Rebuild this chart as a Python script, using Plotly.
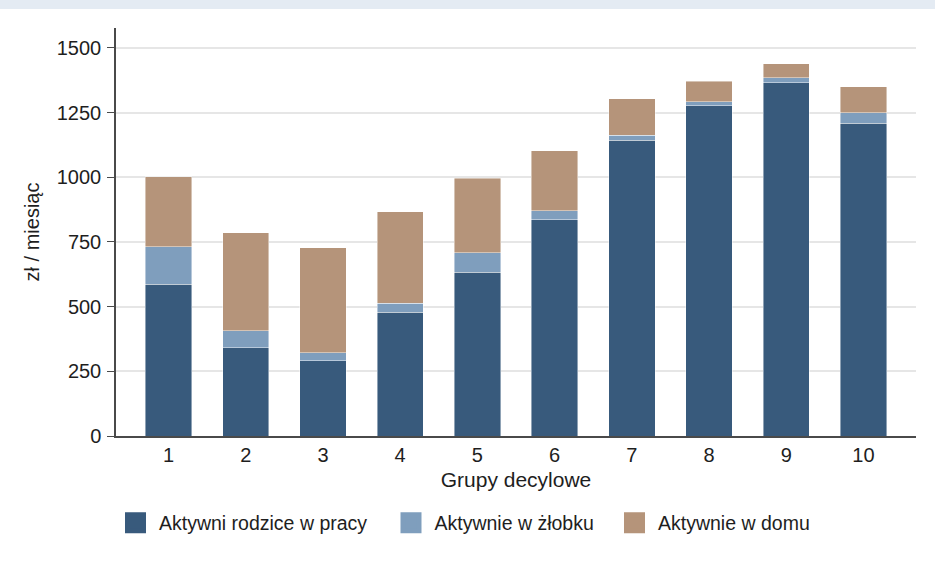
import plotly.graph_objects as go

groups = [1, 2, 3, 4, 5, 6, 7, 8, 9, 10]
tick_labels = ["1", "2", "3", "4", "5", "6", "7", "8", "9", "10"]
series_names = ["Aktywni rodzice w pracy", "Aktywnie w żłobku", "Aktywnie w domu"]
work = [587, 341, 291, 479, 633, 835, 1144, 1276, 1366, 1209]
creche = [145, 66, 31, 34, 76, 36, 18, 16, 19, 40]
home = [270, 379, 405, 354, 288, 231, 141, 80, 53, 100]
y_ticks = [0, 250, 500, 750, 1000, 1250, 1500]

colors = ["#385a7c", "#7f9ebd", "#b5947a"]
FONT = "Liberation Sans, Arial, sans-serif"
TXT = "#1e1e1e"

fig = go.Figure()
for name, vals, col in zip(series_names, [work, creche, home], colors):
    fig.add_trace(go.Bar(
        x=groups, y=vals, name=name, width=0.6,
        marker=dict(color=col, line=dict(color="rgba(255,255,255,0.55)", width=0.8)),
        showlegend=False, hoverinfo="x+y+name",
    ))

legend_ids = ["legend", "legend2", "legend3"]
legend_x = [112, 387.5, 611]
for name, col, lid in zip(series_names, colors, legend_ids):
    fig.add_trace(go.Scatter(
        x=[None], y=[None], mode="markers", name=name, legend=lid,
        marker=dict(symbol="square", size=16, color=col, line=dict(color=col, width=5)),
        showlegend=True,
    ))

W, H = 935, 562
ml, mr, mt, mb = 116, 19, 28, 126
ph = H - mt - mb

leg_common = dict(
    orientation="h", xref="container", yref="container", xanchor="left", yanchor="middle",
    font=dict(family=FONT, size=19.5, color=TXT), itemwidth=37,
    bgcolor="rgba(0,0,0,0)", borderwidth=0,
)

layout_legends = {}
for lid, lx in zip(legend_ids, legend_x):
    layout_legends[lid] = dict(leg_common, x=lx / W, y=1 - 523 / H)

fig.update_layout(
    width=W, height=H,
    margin=dict(l=ml, r=mr, t=mt, b=mb, pad=0),
    paper_bgcolor="white", plot_bgcolor="white",
    barmode="stack", bargap=0.4,
    font=dict(family=FONT, size=20, color=TXT),
    xaxis=dict(
        range=[0.32, 10.68], tickmode="array", tickvals=groups, ticktext=tick_labels,
        showgrid=False, zeroline=False, showline=True, linecolor="#4a4a4a", linewidth=1.5,
        ticks="", tickfont=dict(size=20, color=TXT),
        title=dict(text="Grupy decylowe", font=dict(size=21, color=TXT), standoff=8),
    ),
    yaxis=dict(
        range=[0, 1577], tickmode="array", tickvals=y_ticks,
        showgrid=True, gridcolor="#e6e6e6", gridwidth=1.5, zeroline=False,
        showline=True, linecolor="#4a4a4a", linewidth=1.5,
        ticks="outside", ticklen=7, tickwidth=1.2, tickcolor="#4a4a4a",
        tickfont=dict(size=20, color=TXT), ticklabelstandoff=2,
        title=dict(text="zł / miesiąc", font=dict(size=20, color=TXT), standoff=12),
    ),
    shapes=[dict(
        type="rect", xref="paper", yref="paper",
        x0=-ml / 800 - 0.01, x1=1 + mr / 800 + 0.01,
        y0=1 + (mt - 9) / ph, y1=1 + mt / ph + 0.01,
        fillcolor="#e4ebf3", line=dict(width=0), layer="below",
    )],
    **layout_legends,
)

fig.write_html(
    "out.html",
    config={"displayModeBar": False},
    post_script="document.body.style.margin='0';document.body.style.overflow='hidden';",
)
